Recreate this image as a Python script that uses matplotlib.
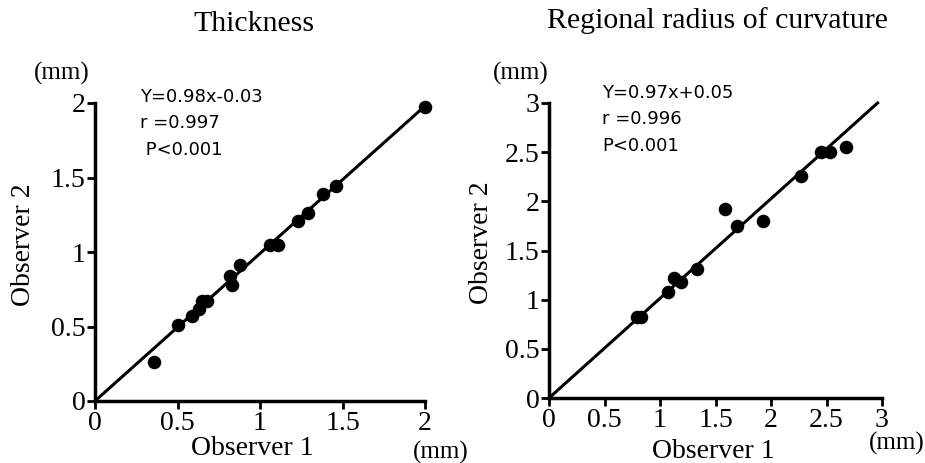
import matplotlib
matplotlib.use('Agg')
import matplotlib.pyplot as plt

plt.rcParams['font.family'] = ['Liberation Serif', 'DejaVu Serif']

# Thickness (mm)
thick_obs1 = [0.36, 0.50, 0.59, 0.63, 0.65, 0.68, 0.82, 0.83, 0.88, 1.06, 1.11, 1.23, 1.29, 1.38, 1.46, 2.00]
thick_obs2 = [0.26, 0.51, 0.57, 0.62, 0.67, 0.67, 0.84, 0.78, 0.91, 1.05, 1.05, 1.21, 1.26, 1.39, 1.44, 1.97]
thick_line_x = [0.0, 2.0]
thick_line_y = [0.0, 1.98]
thick_ticks = [0, 0.5, 1, 1.5, 2]
thick_labels = ['0', '0.5', '1', '1.5', '2']
thick_stats = 'Y=0.98x-0.03\nr =0.997\n P<0.001'

# Regional radius of curvature (mm)
curv_obs1 = [0.79, 0.83, 1.07, 1.13, 1.19, 1.33, 1.59, 1.69, 1.93, 2.27, 2.45, 2.53, 2.68]
curv_obs2 = [0.82, 0.82, 1.08, 1.22, 1.18, 1.31, 1.92, 1.75, 1.80, 2.26, 2.50, 2.50, 2.55]
curv_line_x = [0.0, 2.96]
curv_line_y = [0.0, 3.0]
curv_ticks = [0, 0.5, 1, 1.5, 2, 2.5, 3]
curv_labels = ['0', '0.5', '1', '1.5', '2', '2.5', '3']
curv_stats = 'Y=0.97x+0.05\nr =0.996\nP<0.001'

W, H = 925, 463
fig = plt.figure(figsize=(9.25, 4.63), dpi=100)
ax1 = fig.add_axes([95 / W, 1 - 401 / H, 330 / W, 298 / H])
ax2 = fig.add_axes([549 / W, 1 - 398 / H, 333 / W, 295 / H])


def px(x, y):
    return x / W, 1 - y / H


def setup(ax, xs, ys, lx, ly, ticks, labels, lim, stats, sx, sy):
    ax.plot(lx, ly, color='black', lw=2.2, clip_on=False)
    ax.scatter(xs, ys, s=95, color='black', zorder=3, clip_on=False, linewidths=0)
    ax.set_xlim(0, lim)
    ax.set_ylim(0, lim)
    ax.set_xticks(ticks)
    ax.set_xticklabels(labels)
    ax.set_yticks(ticks)
    ax.set_yticklabels(labels)
    ax.tick_params(direction='out', length=6, width=2, labelsize=20, pad=1)
    for s in ['top', 'right']:
        ax.spines[s].set_visible(False)
    for s in ['left', 'bottom']:
        ax.spines[s].set_linewidth(2.5)
    ax.text(sx, sy, stats, transform=ax.transAxes, fontsize=13,
            family=['DejaVu Sans'], va='top', ha='left', linespacing=1.6)


setup(ax1, thick_obs1, thick_obs2, thick_line_x, thick_line_y,
      thick_ticks, thick_labels, 2, thick_stats, 0.136, 1.05)
setup(ax2, curv_obs1, curv_obs2, curv_line_x, curv_line_y,
      curv_ticks, curv_labels, 3, curv_stats, 0.16, 1.065)

fig.text(*px(254, 24), 'Thickness', fontsize=21.5, ha='center', va='center')
fig.text(*px(717, 21), 'Regional radius of curvature', fontsize=21.5, ha='center', va='center')

fig.text(*px(24, 245), 'Observer 2', fontsize=20, ha='center', va='center', rotation=90)
fig.text(*px(482, 243), 'Observer 2', fontsize=20, ha='center', va='center', rotation=90)
fig.text(*px(252, 455), 'Observer 1', fontsize=20, ha='center', va='baseline')
fig.text(*px(713, 452), 'Observer 1', fontsize=20, ha='center', va='center')

fig.text(*px(62, 73), '(mm)', fontsize=18, ha='center', va='center')
fig.text(*px(441, 452), '(mm)', fontsize=18, ha='center', va='center')
fig.text(*px(521, 73), '(mm)', fontsize=18, ha='center', va='center')
fig.text(*px(897, 443), '(mm)', fontsize=18, ha='center', va='center')

fig.savefig('out.png', dpi=100)
